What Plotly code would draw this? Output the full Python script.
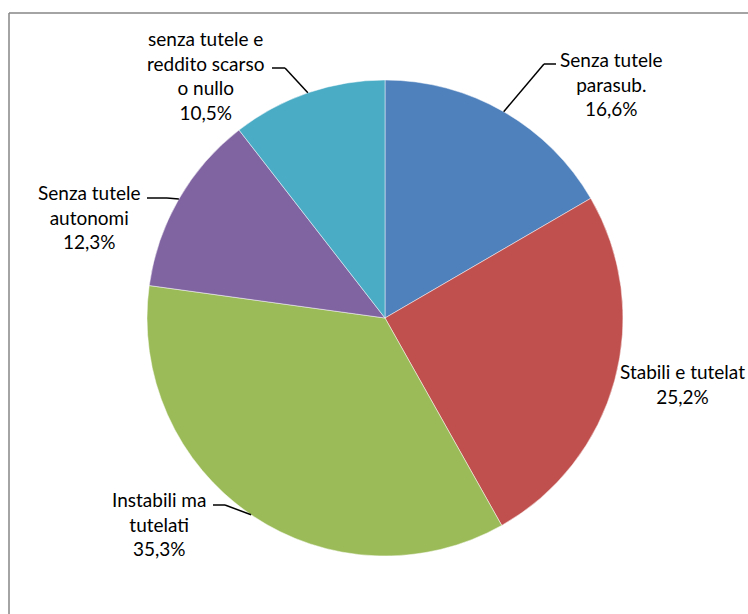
import math
import plotly.graph_objects as go

# Category labels and shares (%), clockwise from 12 o'clock
labels = [
    "Senza tutele<br>parasub.",
    "Stabili e tutelat",
    "Instabili ma<br>tutelati",
    "Senza tutele<br>autonomi",
    "senza tutele e<br>reddito scarso<br>o nullo",
]
shares = [16.6, 25.2, 35.3, 12.3, 10.5]
colors = ["#4F81BD", "#C0504D", "#9BBB59", "#8064A2", "#4BACC6"]

W, H = 748, 614
CX, CY, R = 385, 318, 238  # pie centre / radius in pixels

def px(x):
    return x / W

def py(y):
    return 1 - y / H

fig = go.Figure(
    go.Pie(
        labels=[l.replace("<br>", " ") for l in labels],
        values=shares,
        sort=False,
        direction="clockwise",
        rotation=0,
        textinfo="none",
        hoverinfo="label+percent",
        marker=dict(colors=colors, line=dict(color="rgba(255,255,255,0.6)", width=0.8)),
        domain=dict(x=[px(CX - R), px(CX + R)], y=[py(CY + R), py(CY - R)]),
        showlegend=False,
    )
)

# label placement: (text centre x, text centre y, knee point or None, text-side end of leader)
placement = [
    (611, 84, (544, 64), (556, 64)),
    (682, 384, None, None),
    (159, 524, (225, 505), (213, 505)),
    (89, 217, (167, 198), (147, 198)),
    (205, 75, (285, 68), (272, 68)),
]

shapes = []
annotations = []
total = sum(shares)
cum = 0.0
for lab, val, (tx, ty, knee, tend) in zip(labels, shares, placement):
    mid = (cum + val / 2) / total * 2 * math.pi
    cum += val
    ex = CX + R * math.sin(mid)
    ey = CY - R * math.cos(mid)
    pct = f"{val:.1f}".replace(".", ",") + "%"
    annotations.append(dict(
        x=px(tx), y=py(ty), xref="paper", yref="paper",
        text=f"{lab}<br>{pct}",
        showarrow=False, align="center", xanchor="center", yanchor="middle",
        font=dict(family="Lato", size=19, color="#000000"),
    ))
    if knee is not None:
        for (x0, y0), (x1, y1) in (((ex, ey), knee), (knee, tend)):
            shapes.append(dict(
                type="line", xref="paper", yref="paper",
                x0=px(x0), y0=py(y0), x1=px(x1), y1=py(y1),
                line=dict(color="#000000", width=1.5),
            ))

# chart frame (top and left edges visible)
shapes.append(dict(type="line", xref="paper", yref="paper",
                   x0=px(9), y0=py(13), x1=1.0, y1=py(13),
                   line=dict(color="#868686", width=1.5)))
shapes.append(dict(type="line", xref="paper", yref="paper",
                   x0=px(9), y0=py(13), x1=px(9), y1=0.0,
                   line=dict(color="#868686", width=1.5)))

fig.update_layout(
    width=W, height=H,
    margin=dict(l=0, r=0, t=0, b=0),
    paper_bgcolor="#FFFFFF",
    plot_bgcolor="#FFFFFF",
    shapes=shapes,
    annotations=annotations,
)

fig.write_html("out.html")
